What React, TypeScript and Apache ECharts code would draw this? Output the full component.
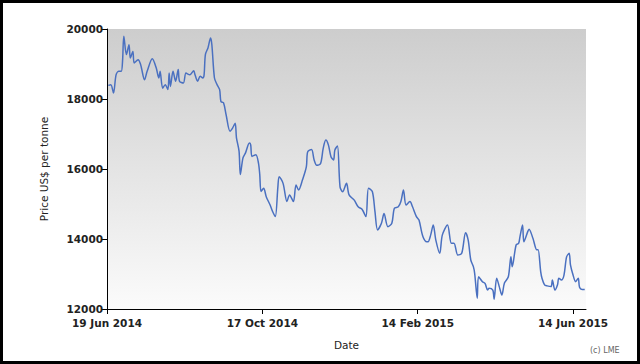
import React, { useEffect, useRef } from "react";
import * as echarts from "echarts";

// Days since 19 Jun 2014 and LME price (US$ per tonne)
const days = [
  1, 3, 5, 7, 9, 11, 12, 13, 15, 17, 18, 20, 21, 24, 26, 29, 31, 35, 38, 40,
  41, 43, 45, 47, 48, 49, 51, 53, 55, 56, 59, 61, 64, 67, 68, 70, 72, 74, 75, 76,
  78, 80, 81, 83, 85, 87, 88, 90, 92, 95, 97, 99, 100, 102, 103, 105, 107, 110, 111, 112,
  115, 117, 118, 119, 121, 123, 126, 128, 130, 132, 133, 136, 139, 141, 144, 146, 148, 151, 154, 155,
  158, 160, 162, 165, 167, 169, 171, 173, 175, 176, 178, 180, 182, 185, 187, 191, 194, 197, 200, 202,
  205, 207, 209, 212, 214, 217, 220, 222, 225, 227, 229, 231, 234, 236, 239, 241, 244, 247, 248, 250,
  252, 254, 257, 259, 263, 266, 268, 271, 274, 277, 279, 281, 283, 284, 286, 287, 290, 292, 294, 295,
  298, 299, 301, 303, 305, 307, 310, 312, 313, 316, 318, 319, 321, 322, 325, 326, 329, 332, 333, 335,
  336, 338, 340, 343, 344, 346, 348, 349, 351, 353, 355, 357, 358, 360, 362, 364, 365, 367, 369,
];
const prices = [
  18390, 18410, 18170, 18690, 18790, 18790, 19080, 19790, 19270, 19550, 19170, 19360, 19030, 19120, 18980, 18550, 18790, 19150, 18890, 18600,
  18790, 18310, 18410, 18270, 18740, 18360, 18790, 18510, 18840, 18510, 18460, 18740, 18690, 18810, 18690, 18510, 18650, 18600, 18690, 19270,
  19460, 19740, 19550, 18600, 18410, 18270, 17930, 17890, 17550, 17080, 17170, 17310, 16890, 16510, 15840, 16310, 16460, 16740, 16690, 16360,
  16410, 16170, 15840, 15360, 15450, 15210, 14970, 14780, 14640, 15490, 15780, 15590, 15070, 15260, 15070, 15540, 15400, 15690, 16070, 16490,
  16560, 16260, 16110, 16160, 16590, 16830, 16690, 16350, 16260, 16540, 16660, 15490, 15350, 15590, 15260, 15110, 14920, 14850, 14640, 15450,
  15350, 14780, 14260, 14450, 14730, 14350, 14450, 14880, 14920, 15070, 15400, 14970, 15070, 14920, 14640, 14540, 14070, 13920, 13920, 14110,
  14400, 13970, 13590, 14110, 14400, 13880, 13880, 13540, 13590, 14180, 13970, 13400, 13210, 13020, 12310, 12920, 12780, 12730, 12540, 12590,
  12540, 12280, 12880, 12640, 12400, 12740, 12920, 13490, 13210, 13830, 13880, 14070, 14400, 13920, 14210, 14280, 14020, 13690, 13690, 13070,
  12880, 12690, 12660, 12640, 12830, 12540, 12690, 12880, 12830, 12970, 13490, 13590, 13260, 12970, 12780, 12880, 12620, 12560, 12560,
];
const xTickDays = [0, 120, 240, 360];
const xTickLabels = ["19 Jun 2014", "17 Oct 2014", "14 Feb 2015", "14 Jun 2015"];
const yTicks = [12000, 14000, 16000, 18000, 20000];

export default function App() {
  const ref = useRef<HTMLDivElement>(null);
  useEffect(() => {
    if (!ref.current) return;
    const chart = echarts.init(ref.current, undefined, { renderer: "svg" });
    const font = "'DejaVu Sans', sans-serif";
    chart.setOption({
      animation: false,
      backgroundColor: "#ffffff",
      grid: {
        left: 107,
        right: 54,
        top: 29,
        bottom: 55,
        show: true,
        borderWidth: 0,
        backgroundColor: new echarts.graphic.LinearGradient(0, 0, 0, 1, [
          { offset: 0, color: "#cdcdcd" },
          { offset: 1, color: "#fbfbfb" },
        ]),
      },
      xAxis: {
        type: "value",
        min: 0,
        max: 370,
        name: "Date",
        nameLocation: "middle",
        nameGap: 30,
        nameTextStyle: { fontFamily: font, fontSize: 10.5, color: "#222" },
        splitLine: { show: false },
        axisLine: { show: true, lineStyle: { color: "#000", width: 1 } },
        axisTick: {
          show: true,
          length: 5,
          lineStyle: { color: "#000" },
          customValues: xTickDays,
        },
        axisLabel: {
          customValues: xTickDays,
          margin: 8,
          fontFamily: font,
          fontSize: 10.5,
          fontWeight: "bold",
          color: "#222",
          formatter: (v: number) => {
            const i = xTickDays.indexOf(Math.round(v));
            return i >= 0 ? xTickLabels[i] : "";
          },
        },
      },
      yAxis: {
        type: "value",
        min: yTicks[0],
        max: yTicks[yTicks.length - 1],
        interval: 2000,
        name: "Price US$ per tonne",
        nameLocation: "middle",
        nameGap: 58,
        nameTextStyle: { fontFamily: font, fontSize: 10.5, color: "#222" },
        splitLine: { show: false },
        axisLine: { show: true, lineStyle: { color: "#000", width: 1 } },
        axisTick: { show: true, length: 6, lineStyle: { color: "#000" } },
        axisLabel: {
          margin: 4,
          fontFamily: font,
          fontSize: 10.5,
          fontWeight: "bold",
          color: "#222",
          formatter: (v: number) => String(v),
        },
      },
      series: [
        {
          type: "line",
          data: days.map((d, i) => [d, prices[i]]),
          showSymbol: false,
          symbol: "none",
          smooth: 0.3,
          lineStyle: { color: "#4a70c0", width: 1.5 },
        },
      ],
      graphic: [
        {
          type: "rect",
          shape: { x: 1.5, y: 1.5, width: 637, height: 361 },
          style: { fill: "none", stroke: "#000", lineWidth: 3 },
          silent: true,
        },
        {
          type: "text",
          left: 590,
          top: 346,
          style: { text: "(c) LME", fontFamily: font, fontSize: 8, fill: "#666" },
        },
      ],
    });
    return () => chart.dispose();
  }, []);
  return (
    <div
      ref={ref}
      style={{ position: "fixed", left: 0, top: 0, width: 640, height: 364 }}
    />
  );
}
